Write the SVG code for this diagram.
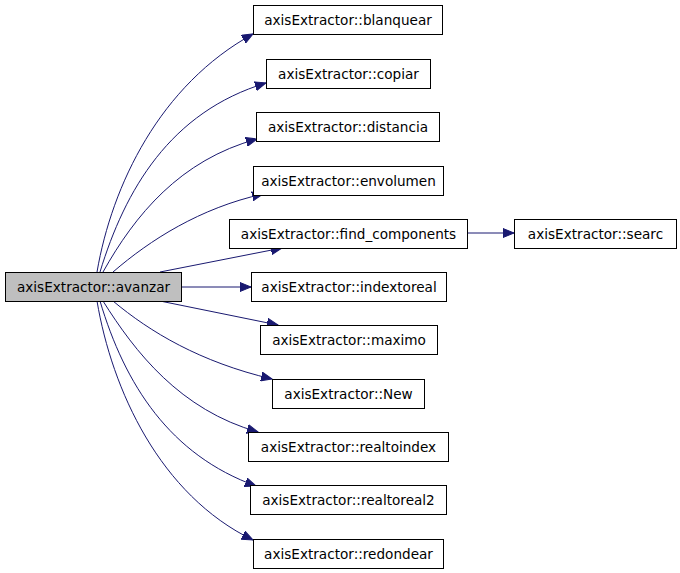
<svg xmlns="http://www.w3.org/2000/svg" width="680" height="573" viewBox="0 0 680 573">
<style>
.n rect{fill:#fff;stroke:#000;stroke-width:1}
#avanzar rect{fill:#bfbfbf}
.n text{font-family:"DejaVu Sans",sans-serif;font-size:13.6px;text-anchor:middle;fill:#000}
.e path{fill:none;stroke:#191970;stroke-width:1}
</style>
<defs>
<marker id="ah" markerUnits="userSpaceOnUse" markerWidth="12" markerHeight="10" refX="11" refY="5" orient="auto" viewBox="0 0 12 10">
<path d="M0,0.5 L11,5 L0,9.5 Z" fill="#191970" stroke="#191970"/>
</marker>
</defs>
<rect width="680" height="573" fill="#fff"/>
<g id="edges" class="e">
<path d="M97,272 C112,185 160,85 253,34" marker-end="url(#ah)"/>
<path d="M100,272 C125,190 170,112 266,83" marker-end="url(#ah)"/>
<path d="M103,272 C135,215 180,160 257,139" marker-end="url(#ah)"/>
<path d="M113,272 C150,240 200,208 263,194" marker-end="url(#ah)"/>
<path d="M160,272 L282,248" marker-end="url(#ah)"/>
<path d="M182,287 L251,287" marker-end="url(#ah)"/>
<path d="M160,301 L278,325" marker-end="url(#ah)"/>
<path d="M113,301 C150,332 200,362 272,379" marker-end="url(#ah)"/>
<path d="M103,301 C135,352 180,410 258,432" marker-end="url(#ah)"/>
<path d="M100,301 C125,385 170,455 256,486" marker-end="url(#ah)"/>
<path d="M97,301 C112,390 160,495 253,540" marker-end="url(#ah)"/>
<path d="M467,233 L514,233" marker-end="url(#ah)"/>
</g>
<g id="avanzar" class="n"><rect x="5.5" y="272.5" width="176" height="29"/><text x="93.5" y="291.5">axisExtractor::avanzar</text></g>
<g id="blanquear" class="n"><rect x="253.5" y="5.5" width="189" height="29"/><text x="348" y="24.5">axisExtractor::blanquear</text></g>
<g id="copiar" class="n"><rect x="266.5" y="59.5" width="164" height="29"/><text x="348.5" y="78.5">axisExtractor::copiar</text></g>
<g id="distancia" class="n"><rect x="256.5" y="112.5" width="183" height="29"/><text x="348" y="131.5">axisExtractor::distancia</text></g>
<g id="envolumen" class="n"><rect x="253.5" y="166.5" width="190" height="29"/><text x="348.5" y="185.5">axisExtractor::envolumen</text></g>
<g id="find_components" class="n"><rect x="229.5" y="219.5" width="238" height="29"/><text x="348.5" y="238.5">axisExtractor::find_components</text></g>
<g id="searc" class="n"><rect x="514.5" y="219.5" width="162" height="29"/><text x="595.5" y="238.5">axisExtractor::searc</text></g>
<g id="indextoreal" class="n"><rect x="251.5" y="272.5" width="195" height="29"/><text x="349" y="291.5">axisExtractor::indextoreal</text></g>
<g id="maximo" class="n"><rect x="260.5" y="325.5" width="177" height="29"/><text x="349" y="344.5">axisExtractor::maximo</text></g>
<g id="New" class="n"><rect x="272.5" y="379.5" width="152" height="29"/><text x="348.5" y="398.5">axisExtractor::New</text></g>
<g id="realtoindex" class="n"><rect x="248.5" y="432.5" width="200" height="29"/><text x="348.5" y="451.5">axisExtractor::realtoindex</text></g>
<g id="realtoreal2" class="n"><rect x="250.5" y="485.5" width="196" height="29"/><text x="348.5" y="504.5">axisExtractor::realtoreal2</text></g>
<g id="redondear" class="n"><rect x="253.5" y="539.5" width="190" height="29"/><text x="348.5" y="558.5">axisExtractor::redondear</text></g>
</svg>
